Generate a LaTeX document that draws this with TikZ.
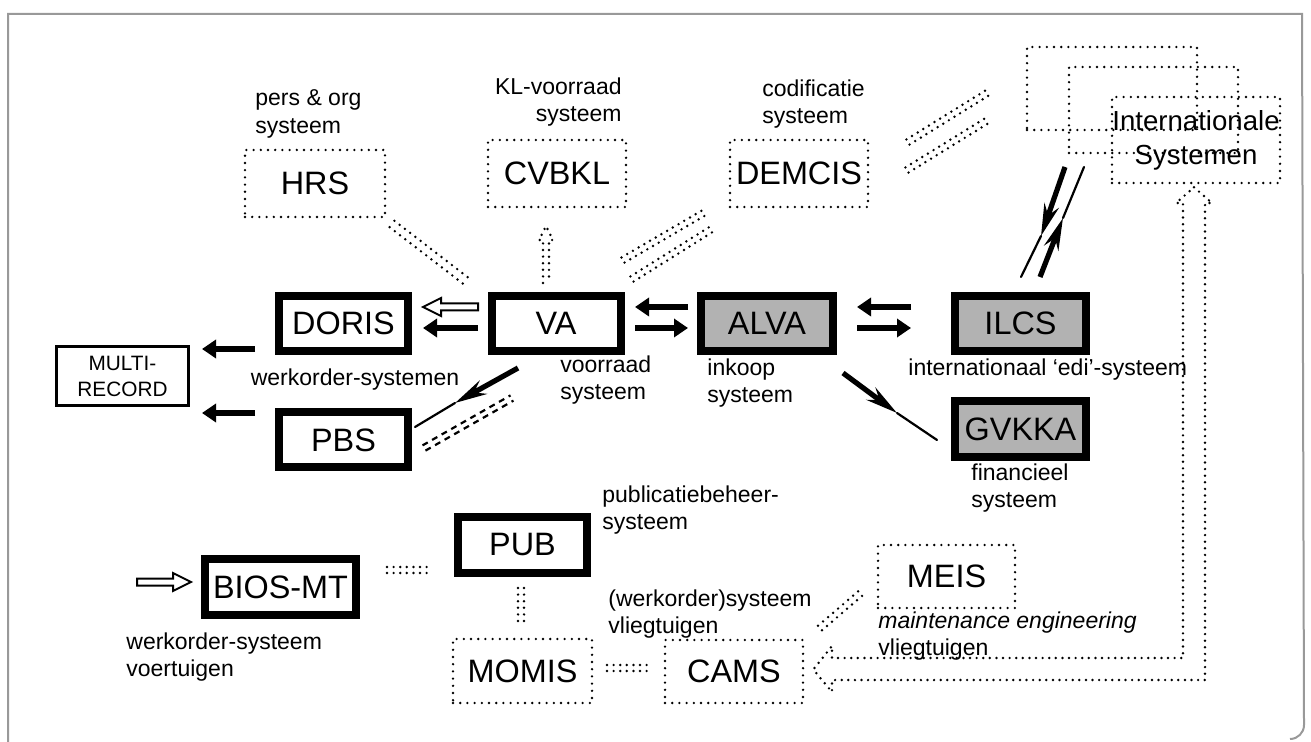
\documentclass[tikz,border=0pt]{standalone}
\usepackage{fontspec}
\setmainfont{Liberation Sans}
\usetikzlibrary{calc,arrows.meta}
\newcommand\dgNode{\fontsize{16.2}{18}\selectfont}
\newcommand\dgInt{\fontsize{13.8}{17}\selectfont}
\newcommand\dgSmall{\fontsize{10.4}{13}\selectfont}
\newcommand\dgLabel{\fontsize{11.5}{13.7}\selectfont}
\tikzset{
  thickbox/.style={draw, line width=4pt, minimum width=64.5pt, minimum height=27.5pt, inner sep=0pt, font=\dgNode},
  graybox/.style={thickbox, fill=black!30},
  dotbox/.style={draw, line width=1.3pt, line cap=round, dash pattern=on 0pt off 3.6pt, minimum width=68.5pt, minimum height=33.5pt, inner sep=0pt, font=\dgNode},
  lbl/.style={inner sep=0pt, font=\dgLabel, align=left, anchor=west},
  fatarrow/.style={line width=3pt, -{Triangle[length=7pt,width=9pt]}},
  dots/.style={line width=1.35pt, line cap=round, dash pattern=on 0pt off 3.3pt},
  dashes/.style={line width=1.1pt, dash pattern=on 3pt off 2.5pt},
  frame/.style={draw=black!40, line width=1pt}
}
% hollow arrow from #1 to #2
\newcommand\hollowarr[2]{%
  \coordinate (hh) at ($(#2)!9pt!(#1)$);
  \draw[line width=1pt, fill=white, line join=miter]
   ($(#1)!1.75pt!90:(#2)$) -- ($(hh)!1.75pt!90:(#2)$) -- ($(hh)!4.5pt!90:(#2)$) -- (#2)
   -- ($(hh)!4.5pt!-90:(#2)$) -- ($(hh)!1.75pt!-90:(#2)$) -- ($(#1)!1.75pt!-90:(#2)$) -- cycle;}
% two parallel lines: style, from, to, half gap
\newcommand\dbl[4]{%
  \draw[#1] ($(#2)!#4!90:(#3)$) -- ($(#3)!#4!-90:(#2)$);
  \draw[#1] ($(#2)!#4!-90:(#3)$) -- ($(#3)!#4!90:(#2)$);}
% spike arrow: start, tip, thin end
\newcommand\spike[3]{%
  \draw[line width=2.6pt, -{Stealth[length=16pt,width=7.5pt]}] (#1) -- (#2);
  \draw[line width=1.1pt, line cap=round] (#2) -- (#3);}
\begin{document}
\begin{tikzpicture}[x=0.5pt,y=-0.5pt]
\useasboundingbox (0,0) rectangle (1311,742);
% page frame
\draw[frame] (8,742) -- (8,14) -- (1302,14) -- (1304,725) to[out=-90,in=0] (1290,739);

% dotted systems
\node[dotbox, minimum width=70pt] (HRS) at (315,183.5) {HRS};
\node[dotbox, minimum width=69pt] (CVBKL) at (557,173.5) {CVBKL};
\node[dotbox, minimum width=69pt] (DEMCIS) at (799,173.5) {DEMCIS};
\node[dotbox, minimum width=85pt, minimum height=41.5pt] (INT1) at (1112,88.5) {};
\node[dotbox, minimum width=84.5pt, minimum height=43pt] (INT2) at (1153.5,110) {};
\node[dotbox, minimum width=84pt, minimum height=43pt, font=\dgInt, align=center] (INT3) at (1196,140) {Internationale\\Systemen};
\node[dotbox, minimum width=69.5pt, minimum height=32pt] (MOMIS) at (522.5,671) {MOMIS};
\node[dotbox, minimum width=69pt, minimum height=31.5pt] (CAMS) at (734,671.5) {CAMS};
\node[dotbox, minimum width=68.5pt, minimum height=31.5pt] (MEIS) at (946.5,576.5) {MEIS};

% thick systems
\node[thickbox] (DORIS) at (343.5,323.5) {DORIS};
\node[thickbox] (VA) at (556,323.5) {VA};
\node[graybox, minimum width=66pt] (ALVA) at (767,323.5) {ALVA};
\node[graybox, minimum width=65.5pt] (ILCS) at (1020.5,323.5) {ILCS};
\node[thickbox] (PBS) at (343.5,440) {PBS};
\node[graybox, minimum width=65.5pt, minimum height=28pt] (GVKKA) at (1020.5,429) {GVKKA};
\node[thickbox, minimum height=28pt] (PUB) at (522.5,545) {PUB};
\node[thickbox, minimum width=75.5pt, minimum height=28pt] (BIOS) at (280.5,587) {BIOS-MT};
\node[draw, line width=1.5pt, minimum width=66pt, minimum height=29.5pt, inner sep=0pt, font=\dgSmall, align=center] (MULTI) at (122.5,376) {MULTI-\\RECORD};

% labels
\node[lbl] (lHRS) at (255,114) {pers \& org\\systeem};
\node[lbl, align=right, anchor=east] (lCVBKL) at (622,102) {KL-voorraad\\systeem};
\node[lbl] (lDEMCIS) at (762,104) {codificatie\\systeem};
\node[lbl, anchor=center] (lWS) at (355,380) {werkorder-systemen};
\node[lbl] (lVA) at (560,380) {voorraad\\systeem};
\node[lbl] (lALVA) at (707,383) {inkoop\\systeem};
\node[lbl] (lILCS) at (908,370) {internationaal ‘edi’-systeem};
\node[lbl] (lGVKKA) at (971,488) {financieel\\systeem};
\node[lbl] (lPUB) at (602,510) {publicatiebeheer-\\systeem};
\node[lbl] (lCAMS) at (608,614) {(werkorder)systeem\\vliegtuigen};
\node[lbl] (lMEIS) at (878,636) {\textit{maintenance engineering}\\vliegtuigen};
\node[lbl] (lBIOS) at (126,657) {werkorder-systeem\\voertuigen};

% coordinates for connectors
\coordinate (a1s) at (688,307); \coordinate (a1e) at (635,307);
\coordinate (a2s) at (635,328); \coordinate (a2e) at (688,328);
\coordinate (a3s) at (911,307); \coordinate (a3e) at (857,307);
\coordinate (a4s) at (857,328); \coordinate (a4e) at (911,328);
\coordinate (a5s) at (478,328); \coordinate (a5e) at (423,328);
\coordinate (h1s) at (478,307); \coordinate (h1e) at (423,307);
\coordinate (a6s) at (255,349); \coordinate (a6e) at (202,349);
\coordinate (a7s) at (255,413); \coordinate (a7e) at (202,413);
\coordinate (h2s) at (137,582); \coordinate (h2e) at (191,582);

% solid fat arrows
\draw[fatarrow] (a1s) -- (a1e);
\draw[fatarrow] (a2s) -- (a2e);
\draw[fatarrow] (a3s) -- (a3e);
\draw[fatarrow] (a4s) -- (a4e);
\draw[fatarrow] (a5s) -- (a5e);
\draw[fatarrow] (a6s) -- (a6e);
\draw[fatarrow] (a7s) -- (a7e);
\hollowarr{h1s}{h1e}
\hollowarr{h2s}{h2e}

% spike arrows
\coordinate (s1a) at (518,368); \coordinate (s1b) at (455,403); \coordinate (s1c) at (415,427);
\coordinate (s2a) at (843,373); \coordinate (s2b) at (897,413); \coordinate (s2c) at (937,440);
\coordinate (s3a) at (1065,167); \coordinate (s3b) at (1041,236); \coordinate (s3c) at (1021,277);
\coordinate (s4a) at (1040,277); \coordinate (s4b) at (1063,218); \coordinate (s4c) at (1084,167);
\spike{s1a}{s1b}{s1c}
\spike{s2a}{s2b}{s2c}
\spike{s3a}{s3b}{s3c}
\spike{s4a}{s4b}{s4c}

% dotted double connectors
\coordinate (d1a) at (392,224); \coordinate (d1b) at (470,284);
\dbl{dots}{d1a}{d1b}{2pt}
\draw[dots] (543,283) -- (543,240) -- (539,240) -- (546,226) -- (553,240) -- (549,240) -- (549,283);
\coordinate (d2a) at (623,260); \coordinate (d2b) at (707,211);
\coordinate (d3a) at (632,279); \coordinate (d3b) at (715,227);
\dbl{dots}{d2a}{d2b}{1.5pt}
\dbl{dots}{d3a}{d3b}{1.5pt}
\coordinate (d4a) at (908,142); \coordinate (d4b) at (992,90);
\coordinate (d5a) at (907,170); \coordinate (d5b) at (988,120);
\dbl{dots}{d4a}{d4b}{1.5pt}
\dbl{dots}{d5a}{d5b}{1.5pt}
\coordinate (d6a) at (387,570); \coordinate (d6b) at (433,570);
\dbl{dots}{d6a}{d6b}{1.5pt}
\coordinate (d7a) at (521,588); \coordinate (d7b) at (521,625);
\dbl{dots}{d7a}{d7b}{1.5pt}
\coordinate (d8a) at (607,668); \coordinate (d8b) at (650,668);
\dbl{dots}{d8a}{d8b}{1.5pt}
\coordinate (d9a) at (820,628); \coordinate (d9b) at (862,592);
\dbl{dots}{d9a}{d9b}{1.5pt}
% dashed PBS - VA
\coordinate (e1a) at (424,448); \coordinate (e1b) at (512,398);
\dbl{dashes}{e1a}{e1b}{1.5pt}

% L-shaped hollow dotted double arrow between Internationale Systemen and CAMS
\coordinate (Ltop) at ($(INT3.south)+(-2,3)$);
\coordinate (Lleft) at ($(CAMS.east)+(9,-2)$);
\draw[dots] (Ltop) -- (1212,203) -- (1205,203) -- (1205,680) -- (832,680) -- (832,692) -- (Lleft)
  -- (832,646) -- (832,658) -- (1183,658) -- (1183,203) -- (1176,203) -- cycle;
\end{tikzpicture}
\end{document}
